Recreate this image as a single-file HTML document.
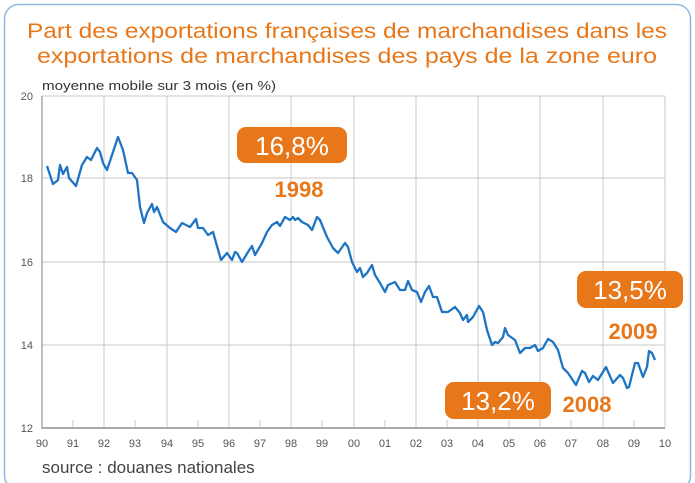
<!DOCTYPE html>
<html><head><meta charset="utf-8"><style>html,body{margin:0;padding:0;background:#fff}svg{display:block}</style></head><body>
<svg width="695" height="483" viewBox="0 0 695 483" xmlns="http://www.w3.org/2000/svg" font-family="Liberation Sans, sans-serif">
<rect x="4.5" y="4.5" width="686" height="485" rx="14" fill="none" stroke="#8fb8e0" stroke-width="1.5"/>
<text x="347" y="38" text-anchor="middle" font-size="21" fill="#e8771a" textLength="640" lengthAdjust="spacingAndGlyphs">Part des exportations françaises de marchandises dans les</text>
<text x="347" y="63" text-anchor="middle" font-size="21" fill="#e8771a" textLength="620" lengthAdjust="spacingAndGlyphs">exportations de marchandises des pays de la zone euro</text>
<text x="42" y="90" font-size="13" fill="#333" textLength="234" lengthAdjust="spacingAndGlyphs">moyenne mobile sur 3 mois (en %)</text>
<g stroke="#c8c8c8" stroke-width="1">
<line x1="42" y1="96" x2="665" y2="96"/><line x1="42" y1="178" x2="665" y2="178"/><line x1="42" y1="262" x2="665" y2="262"/><line x1="42" y1="345" x2="665" y2="345"/>
<line x1="104" y1="96" x2="104" y2="428"/><line x1="167" y1="96" x2="167" y2="428"/><line x1="229" y1="96" x2="229" y2="428"/><line x1="291" y1="96" x2="291" y2="428"/><line x1="354" y1="96" x2="354" y2="428"/><line x1="416" y1="96" x2="416" y2="428"/><line x1="478" y1="96" x2="478" y2="428"/><line x1="540" y1="96" x2="540" y2="428"/><line x1="603" y1="96" x2="603" y2="428"/><line x1="665" y1="96" x2="665" y2="428"/>
<line x1="73" y1="420" x2="73" y2="428"/><line x1="135" y1="420" x2="135" y2="428"/><line x1="198" y1="420" x2="198" y2="428"/><line x1="260" y1="420" x2="260" y2="428"/><line x1="322" y1="420" x2="322" y2="428"/><line x1="385" y1="420" x2="385" y2="428"/><line x1="447" y1="420" x2="447" y2="428"/><line x1="509" y1="420" x2="509" y2="428"/><line x1="571" y1="420" x2="571" y2="428"/><line x1="634" y1="420" x2="634" y2="428"/>
</g>
<line x1="42" y1="96" x2="42" y2="429" stroke="#aaa" stroke-width="1.5"/>
<line x1="42" y1="428" x2="665" y2="428" stroke="#aaa" stroke-width="2"/>
<g font-size="11" fill="#555" text-anchor="end"><text x="33" y="100">20</text><text x="33" y="182">18</text><text x="33" y="266">16</text><text x="33" y="349">14</text><text x="33" y="432">12</text></g>
<g font-size="11" fill="#555" text-anchor="middle"><text x="42" y="447">90</text><text x="73" y="447">91</text><text x="104" y="447">92</text><text x="135" y="447">93</text><text x="167" y="447">94</text><text x="198" y="447">95</text><text x="229" y="447">96</text><text x="260" y="447">97</text><text x="291" y="447">98</text><text x="322" y="447">99</text><text x="354" y="447">00</text><text x="385" y="447">01</text><text x="416" y="447">02</text><text x="447" y="447">03</text><text x="478" y="447">04</text><text x="509" y="447">05</text><text x="540" y="447">06</text><text x="571" y="447">07</text><text x="603" y="447">08</text><text x="634" y="447">09</text><text x="665" y="447">10</text></g>
<polyline fill="none" stroke="#1f74c4" stroke-width="2.3" stroke-linejoin="round" points="47,166 53,184 58,180 60,165 63,174 67,167 69,178 76,186 82,165 87,157 91,160 97,148 100,152 103,163 107,170 112,155 118,137 123,150 128,173 132,173 137,180 140,207 144,223 147,213 152,204 154,212 157,207 163,222 170,228 176,232 182,223 190,227 196,219 198,228 203,228 208,235 213,232 221,260 227,253 232,260 235,252 237,253 242,262 248,252 252,246 255,255 262,243 267,232 272,225 277,222 280,226 285,217 290,220 293,217 295,220 298,218 302,222 308,225 312,230 317,217 320,220 327,237 333,248 338,253 345,243 348,247 352,262 357,272 360,268 363,277 367,273 372,265 375,275 380,283 385,292 388,285 395,282 400,290 405,290 408,281 412,290 417,292 421,302 425,292 429,286 433,297 437,297 442,312 448,312 455,307 460,313 463,320 467,315 468,322 473,317 479,306 483,312 487,330 492,345 495,342 498,343 503,337 505,328 508,335 515,340 520,353 525,348 530,348 535,345 538,351 543,348 548,339 553,342 558,350 563,368 568,373 576,385 582,371 585,373 589,382 593,376 598,380 606,367 613,383 620,375 623,378 627,388 629,387 635,363 638,363 643,377 647,367 649,351 652,353 655,360"/>
<rect x="237" y="127" width="110" height="36" rx="9" fill="#e8771a"/>
<text x="292" y="155" text-anchor="middle" font-size="26" fill="#fff">16,8%</text>
<text x="299" y="197" text-anchor="middle" font-size="22" font-weight="bold" fill="#e8771a">1998</text>
<rect x="577" y="271" width="106" height="37" rx="9" fill="#e8771a"/>
<text x="630" y="299" text-anchor="middle" font-size="26" fill="#fff">13,5%</text>
<text x="633" y="339" text-anchor="middle" font-size="22" font-weight="bold" fill="#e8771a">2009</text>
<rect x="445" y="382" width="106" height="37" rx="9" fill="#e8771a"/>
<text x="498" y="410" text-anchor="middle" font-size="26" fill="#fff">13,2%</text>
<text x="587" y="412" text-anchor="middle" font-size="22" font-weight="bold" fill="#e8771a">2008</text>
<text x="42" y="473" font-size="17" fill="#444">source : douanes nationales</text>
</svg>
</body></html>
